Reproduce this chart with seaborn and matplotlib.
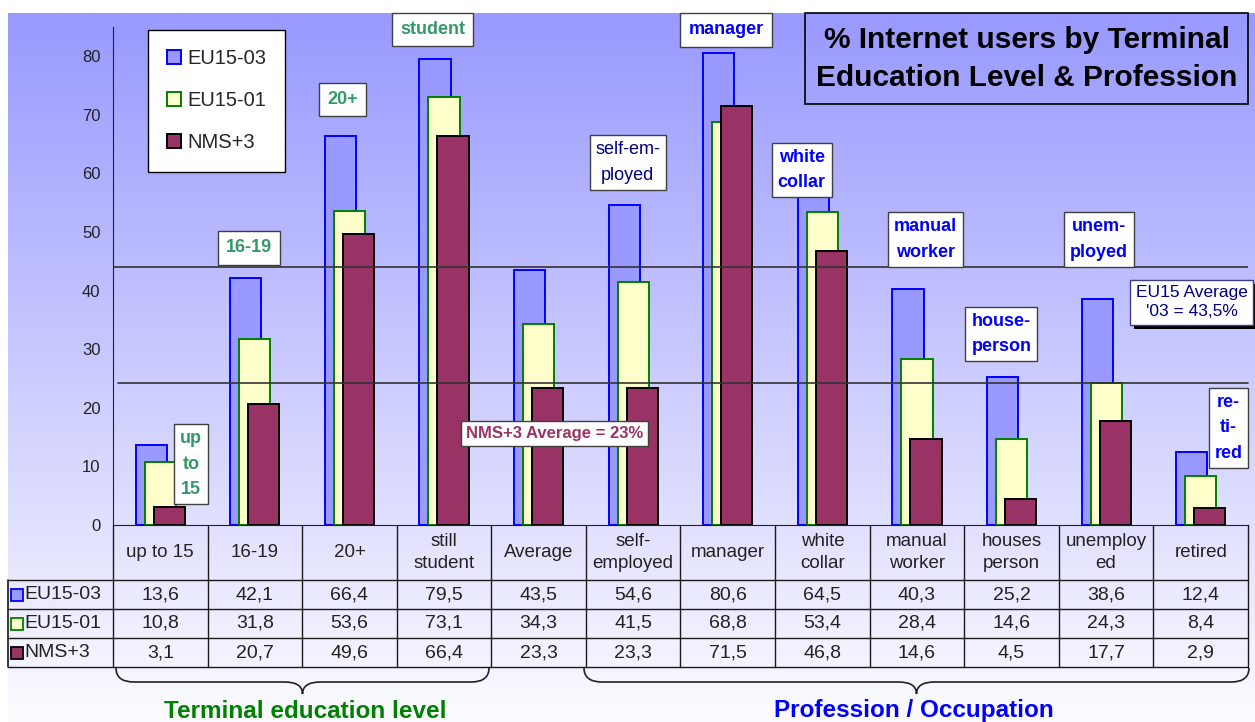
import numpy as np
import pandas as pd
import matplotlib.pyplot as plt
import matplotlib.patches as mpatches
import matplotlib.patheffects as pe
from matplotlib.path import Path
import seaborn as sns

# ------------------------------------------------ DATOS
categorias = ['up to 15', '16-19', '20+', 'still\nstudent', 'Average', 'self-\nemployed',
              'manager', 'white\ncollar', 'manual\nworker', 'houses\nperson', 'unemploy\ned', 'retired']
eu15_03 = [13.6, 42.1, 66.4, 79.5, 43.5, 54.6, 80.6, 64.5, 40.3, 25.2, 38.6, 12.4]
eu15_01 = [10.8, 31.8, 53.6, 73.1, 34.3, 41.5, 68.8, 53.4, 28.4, 14.6, 24.3, 8.4]
nms_3 = [3.1, 20.7, 49.6, 66.4, 23.3, 23.3, 71.5, 46.8, 14.6, 4.5, 17.7, 2.9]
series = ['EU15-03', 'EU15-01', 'NMS+3']
eu15_media = 44.0   # linea EU15 Average
nms_media = 24.2    # linea NMS+3 Average

# ------------------------------------------------ ESTILO
W, H = 1255, 722
sns.set_style('white')
plt.rcParams['font.family'] = ['Liberation Sans', 'DejaVu Sans']

fill = {'EU15-03': '#9999FF', 'EU15-01': '#FFFFCC', 'NMS+3': '#993366'}
edge = {'EU15-03': '#0000FF', 'EU15-01': '#008000', 'NMS+3': '#000000'}
offset = {'EU15-03': -0.095, 'EU15-01': 0.0, 'NMS+3': 0.095}

df = pd.DataFrame({'cat': np.arange(len(categorias)), 'EU15-03': eu15_03,
                   'EU15-01': eu15_01, 'NMS+3': nms_3})


def fx(px):
    return px / W


def fy(py):
    return 1 - py / H


fig = plt.figure(figsize=(W / 100, H / 100), dpi=100)

# fondo degradado
bg = fig.add_axes([fx(8), 0, 1 - fx(8), fy(13)], zorder=-10)
t = np.linspace(0, 1, 256)[:, None]
top = np.array([153, 153, 255]) / 255
bot = np.array([252, 252, 255]) / 255
grad = (top + (bot - top) * t)[:, None, :].reshape(256, 1, 3)
bg.imshow(grad, aspect='auto', extent=[0, 1, 0, 1])
bg.axis('off')

# ------------------------------------------------ BARRAS
ax = fig.add_axes([fx(113), fy(525), fx(1248) - fx(113), fy(27) - fy(525)])
ax.set_facecolor('none')
for s in series:
    sns.barplot(x=df['cat'] + offset[s], y=df[s], native_scale=True, width=0.33,
                color=fill[s], edgecolor=edge[s], linewidth=1.4, saturation=1,
                errorbar=None, ax=ax)

ax.set_xlim(-0.5, 11.5)
ax.set_ylim(0, 85)
ax.set_yticks(range(0, 90, 10))
ax.set_xticks([])
ax.set_xlabel('')
ax.set_ylabel('')
ax.tick_params(axis='y', direction='out', length=5, width=1, labelsize=12, colors='#222222', pad=4)
for sp in ['top', 'right']:
    ax.spines[sp].set_visible(False)
ax.spines['left'].set_color('#222222')
ax.spines['bottom'].set_color('#222222')

ax.axhline(eu15_media, color='#333333', lw=1.2, zorder=5)
ax.plot([-0.45, 11.5], [nms_media, nms_media], color='#333333', lw=1.2, zorder=5, clip_on=False)

# etiquetas de las barras
verde = '#339966'
azul = '#0000FF'
navy = '#000080'
etiquetas = [
    ('up\nto\n15', 0.325, 10.4, verde, 'bold'),
    ('16-19', 0.939, 47.3, verde, 'bold'),
    ('20+', 1.929, 72.6, verde, 'bold'),
    ('student', 2.881, 84.6, verde, 'bold'),
    ('self-em-\nployed', 4.944, 61.9, navy, 'normal'),
    ('manager', 5.981, 84.5, azul, 'bold'),
    ('white\ncollar', 6.78, 60.6, azul, 'bold'),
    ('manual\nworker', 8.093, 48.7, azul, 'bold'),
    ('unem-\nployed', 9.923, 48.7, azul, 'bold'),
    ('house-\nperson', 8.892, 32.6, azul, 'bold'),
    ('re-\nti-\nred', 11.294, 16.6, azul, 'bold'),
]
for txt, x, y, c, w in etiquetas:
    pad = 0.33 if '\n' in txt else 0.45   # cajas de una linea algo mas altas
    ax.text(x, y, txt, ha='center', va='center', color=c, fontsize=13, fontweight=w,
            linespacing=1.65, zorder=10,
            bbox=dict(boxstyle=f'square,pad={pad}', fc='white', ec='#404040', lw=1))

ax.text(4.167, 15.7, 'NMS+3 Average = 23%', ha='center', va='center', color='#993366',
        fontsize=12, fontweight='bold', bbox=dict(boxstyle='square,pad=0.3', fc='white', ec='#404040', lw=1),
        zorder=10)
t_eu = ax.text(10.902, 38.0, "EU15 Average\n'03 = 43,5%", ha='center', va='center', color=navy,
               fontsize=12.5, linespacing=1.35, bbox=dict(boxstyle='square,pad=0.3', fc='white', ec='#404080', lw=1),
               zorder=10)
t_eu.get_bbox_patch().set_path_effects([pe.SimplePatchShadow(offset=(3, -3), shadow_rgbFace='black', alpha=1),
                                        pe.Normal()])

# leyenda
handles = [mpatches.Patch(facecolor=fill[s], edgecolor=edge[s], lw=1.4) for s in series]
fig.legend(handles, series, loc='upper left', bbox_to_anchor=(fx(148), fy(30)), frameon=True,
           fancybox=False, edgecolor='black', facecolor='white', framealpha=1, fontsize=14.5,
           handlelength=0.7, handleheight=0.7, labelspacing=1.15, borderpad=0.95,
           handletextpad=0.3, borderaxespad=0)

# titulo
fig.add_artist(mpatches.Rectangle((fx(805), fy(104)), fx(1248) - fx(805), fy(13) - fy(104),
                                  transform=fig.transFigure, fill=False, ec='black', lw=1.2))
fig.text(fx(1027), fy(59), '% Internet users by Terminal\nEducation Level & Profession', ha='center',
         va='center', fontsize=21.5, fontweight='bold', color='black', linespacing=1.42)

# ------------------------------------------------ TABLA
tax = fig.add_axes([fx(8), fy(667), fx(1248) - fx(8), fy(525) - fy(667)])
tax.set_facecolor('none')
x_izq = -0.5 - (113 - 8) / ((1248 - 113) / 12)
tax.set_xlim(x_izq, 11.5)
tax.set_ylim(142, 0)
tax.axis('off')
lc = '#1a1a1a'
for i in range(13):
    tax.plot([i - 0.5, i - 0.5], [0, 142], color=lc, lw=1, clip_on=False)
tax.plot([x_izq, x_izq], [55, 142], color=lc, lw=1.2, clip_on=False)
for yy in [55, 84, 113, 142]:
    tax.plot([x_izq, 11.5], [yy, yy], color=lc, lw=1, clip_on=False)

for i, c in enumerate(categorias):
    tax.text(i, 27.5, c, ha='center', va='center', fontsize=13.5, color='#222222', linespacing=1.4)

filas = [eu15_03, eu15_01, nms_3]
for r, (s, vals) in enumerate(zip(series, filas)):
    yc = 69.5 + 29 * r
    tax.plot([x_izq + 0.1], [yc], marker='s', markersize=9, markerfacecolor=fill[s],
             markeredgecolor=edge[s], markeredgewidth=1.3, clip_on=False)
    tax.text(x_izq + 0.17, yc, s, ha='left', va='center', fontsize=14, color='#222222')
    for i, v in enumerate(vals):
        tax.text(i, yc, f'{v:.1f}'.replace('.', ','), ha='center', va='center', fontsize=14, color='#222222')


# ------------------------------------------------ LLAVES
def llave(x0, x1, ytop, ymid, ytip, r=18):
    xm = (x0 + x1) / 2
    pts = [(x0, ytop), (x0, ymid), (x0 + r, ymid), (xm - r, ymid), (xm, ymid), (xm, ytip),
           (xm, ymid), (xm + r, ymid), (x1 - r, ymid), (x1, ymid), (x1, ytop)]
    codes = [Path.MOVETO, Path.CURVE3, Path.CURVE3, Path.LINETO, Path.CURVE3, Path.CURVE3,
             Path.CURVE3, Path.CURVE3, Path.LINETO, Path.CURVE3, Path.CURVE3]
    path = Path([(fx(a), fy(b)) for a, b in pts], codes)
    fig.add_artist(mpatches.PathPatch(path, transform=fig.transFigure, fill=False, ec='#222222', lw=1.2))


llave(116, 489, 668, 682, 694)
llave(584, 1249, 668, 682, 694)
fig.text(fx(305), fy(711), 'Terminal education level', ha='center', va='center', fontsize=17.5,
         fontweight='bold', color='#008000')
fig.text(fx(914), fy(711), 'Profession / Occupation', ha='center', va='center', fontsize=17.5,
         fontweight='bold', color='#0000FF')

fig.savefig('out.png', dpi=100)
